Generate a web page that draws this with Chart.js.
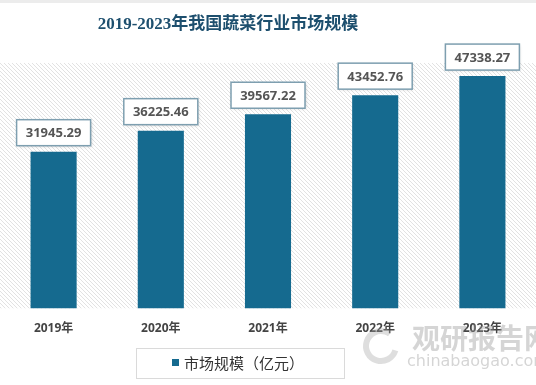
<!DOCTYPE html>
<html>
<head>
<meta charset="utf-8">
<script src="https://cdn.jsdelivr.net/npm/chart.js@4/dist/chart.umd.min.js"></script>
<style>
  html, body { margin: 0; padding: 0; background: #fff; }
  #wrap { width: 536px; height: 385px; position: relative; }
</style>
</head>
<body>
<div id="wrap"><canvas id="chart" width="536" height="385"></canvas></div>
<script>
var years = ["2019年", "2020年", "2021年", "2022年", "2023年"];
var marketSize = [31945.29, 36225.46, 39567.22, 43452.76, 47338.27];
var seriesName = "市场规模（亿元）";
var chartTitle = "2019-2023年我国蔬菜行业市场规模";
var barColor = "#156a8f";

// hatched background, title, value boxes, legend box, watermark
var decorPlugin = {
    id: 'decor',
    beforeDraw: (chart) => {
        var ctx = chart.ctx;
        var a = chart.chartArea;
        ctx.save();
        ctx.fillStyle = '#fff';
        ctx.fillRect(0, 0, chart.width, chart.height);
        ctx.fillStyle = '#ececec';
        ctx.fillRect(0, 0, chart.width, 3);
        ctx.beginPath();
        ctx.rect(0, a.top, chart.width, a.bottom - a.top);
        ctx.clip();
        ctx.strokeStyle = '#e2e2e2';
        ctx.lineWidth = 1;
        for (var x = -300; x < chart.width + 300; x += 4) {
            ctx.beginPath();
            ctx.moveTo(x, a.top);
            ctx.lineTo(x + (a.bottom - a.top), a.bottom);
            ctx.stroke();
        }
        ctx.restore();
    },
    afterDatasetsDraw: (chart) => {
        var ctx = chart.ctx;
        var meta = chart.getDatasetMeta(0);
        ctx.save();
        // watermark (under the labels)
        ctx.fillStyle = 'rgba(150,150,150,0.4)';
        ctx.textAlign = 'left';
        ctx.textBaseline = 'middle';
        ctx.font = 'bold 28px "Noto Sans CJK SC"';
        ctx.fillText("观研报告网", 412, 338);
        ctx.font = '16px "DejaVu Sans"';
        ctx.fillText("chinabaogao.com", 407, 362);
        ctx.lineWidth = 6;
        ctx.strokeStyle = 'rgba(160,160,160,0.35)';
        ctx.beginPath();
        ctx.arc(381, 346, 15, 0.3, Math.PI * 1.7);
        ctx.stroke();
        // title
        ctx.font = 'bold 17px "Liberation Serif", "Noto Sans CJK SC"';
        ctx.fillStyle = '#1d4f6e';
        ctx.textAlign = 'center';
        ctx.fillText(chartTitle, 228, 25);
        // value boxes
        ctx.font = 'bold 13px "Open Sans", "DejaVu Sans"';
        meta.data.forEach((bar, i) => {
            var txt = marketSize[i].toFixed(2);
            var w = 74, h = 26;
            var bx = bar.x - w / 2, by = bar.y - 6 - h;
            ctx.shadowColor = 'rgba(0,0,0,0.18)';
            ctx.shadowBlur = 3;
            ctx.shadowOffsetX = 1;
            ctx.shadowOffsetY = 1;
            ctx.fillStyle = '#fff';
            ctx.fillRect(bx, by, w, h);
            ctx.shadowColor = 'transparent';
            ctx.strokeStyle = '#7e9fb0';
            ctx.lineWidth = 1.5;
            ctx.strokeRect(bx, by, w, h);
            ctx.fillStyle = '#555';
            ctx.fillText(txt, bar.x, by + h / 2 + 1);
        });
        // legend
        ctx.fillStyle = '#fff';
        ctx.strokeStyle = '#dadada';
        ctx.lineWidth = 1;
        ctx.fillRect(136.5, 348.5, 208, 30);
        ctx.strokeRect(136.5, 348.5, 208, 30);
        ctx.fillStyle = barColor;
        ctx.fillRect(172, 359, 7, 7);
        ctx.fillStyle = '#333';
        ctx.textAlign = 'left';
        ctx.font = '15px "Noto Sans CJK SC"';
        ctx.fillText(seriesName, 184, 363);
        ctx.restore();
    }
};

var ctx = document.getElementById('chart').getContext('2d');
var chart = new Chart(ctx, {
    type: 'bar',
    data: {
        labels: years,
        datasets: [{
            label: seriesName,
            data: marketSize,
            backgroundColor: barColor,
            barPercentage: 0.43,
            categoryPercentage: 1
        }]
    },
    options: {
        responsive: false,
        animation: false,
        layout: { padding: { top: 63, bottom: 44, left: 0, right: 0 } },
        plugins: {
            legend: { display: false },
            title: { display: false },
            tooltip: { enabled: false }
        },
        scales: {
            x: {
                grid: { display: false },
                border: { display: false },
                ticks: {
                    color: '#444',
                    padding: 5,
                    font: { size: 12, weight: 'bold', family: '"Open Sans", "Noto Sans CJK SC"' }
                }
            },
            y: {
                display: false,
                min: 0,
                max: 50000
            }
        }
    },
    plugins: [decorPlugin]
});
</script>
</body>
</html>
